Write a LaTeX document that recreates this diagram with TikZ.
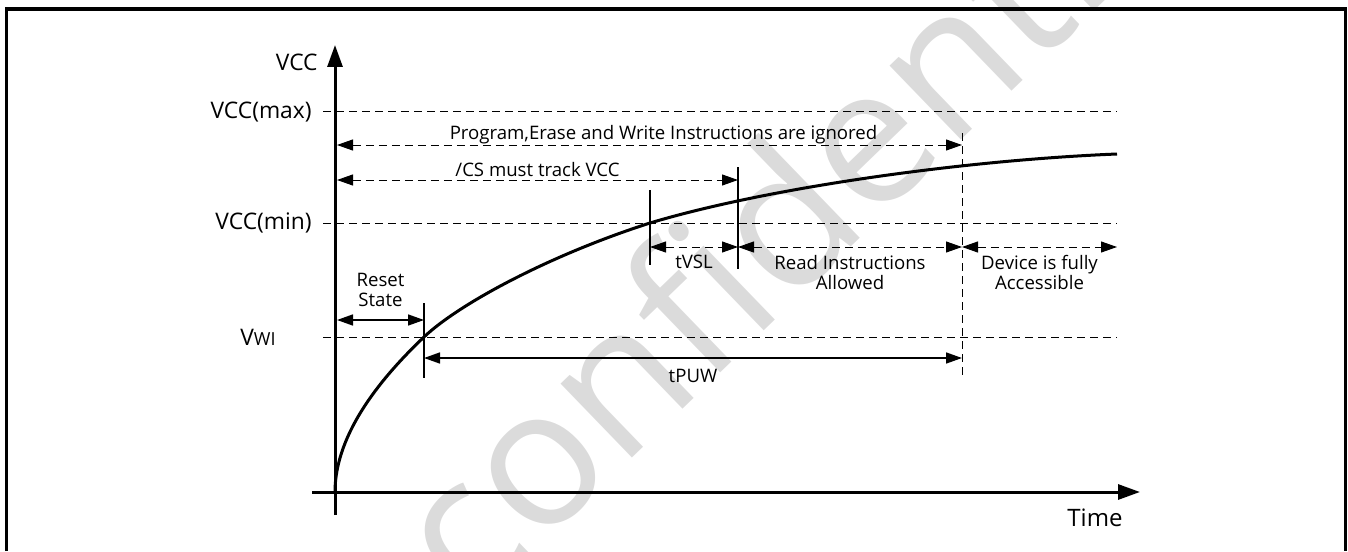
\documentclass[tikz,border=0pt]{standalone}
\usepackage{fontspec}
\setmainfont{Open Sans}
\usetikzlibrary{arrows.meta}

\begin{document}
\begin{tikzpicture}[x=0.5pt, y=-0.5pt,
    every node/.style={font=\fontsize{9.3}{10}\selectfont, inner sep=0pt, align=center},
    biglbl/.style={font=\fontsize{11.4}{13}\selectfont},
    axis/.style={line width=1.5pt, -{Triangle[length=11pt, width=7.5pt]}},
    guide/.style={line width=0.5pt, dash pattern=on 4pt off 2.5pt},
    span/.style={guide, {Triangle[length=8pt, width=5.5pt]}-{Triangle[length=8pt, width=5.5pt]}},
    solidspan/.style={line width=0.8pt, {Triangle[length=8pt, width=5.5pt]}-{Triangle[length=8pt, width=5.5pt]}},
    tickmark/.style={line width=0.6pt}
  ]
  \useasboundingbox (0,0) rectangle (1348,551);
  \node[font=\fontsize{96}{96}\selectfont, text=black!14, rotate=44] (mark) at (800,195) {confidential};
  \draw[line width=1.6pt] (6.5,551) -- (6.5,9) -- (1345.5,9) -- (1345.5,551);

  \coordinate (ybot) at (335,515);
  \coordinate (ytop) at (335,45);
  \coordinate (xleft) at (312,492);
  \coordinate (xright) at (1140,492);
  \draw[axis] (ybot) -- (ytop);
  \draw[axis] (xleft) -- (xright);

  \node[biglbl, anchor=east] (vcc) at (318,62) {VCC};
  \node[biglbl, anchor=east] (vmax) at (312,112) {VCC(max)};
  \node[biglbl, anchor=east] (vmin) at (312,223) {VCC(min)};
  \node[biglbl, anchor=east] (vwi) at (276,337) {V{\fontsize{9}{10}\selectfont WI}};
  \node[font=\fontsize{12}{13}\selectfont] (time) at (1095,518) {Time};

  \coordinate (maxL) at (323,112);  \coordinate (maxR) at (1117,112);
  \coordinate (minL) at (323,223);  \coordinate (minR) at (1117,223);
  \coordinate (wiL) at (323,337);   \coordinate (wiR) at (1117,337);
  \draw[guide] (maxL) -- (maxR);
  \draw[guide] (minL) -- (minR);
  \draw[guide] (wiL) -- (wiR);

  \coordinate (pwT) at (424,303);   \coordinate (pwB) at (424,378);
  \coordinate (vslT) at (650,190);  \coordinate (vslB) at (650,265);
  \coordinate (csT) at (738,167);   \coordinate (csB) at (738,269);
  \coordinate (accT) at (962,133);  \coordinate (accB) at (962,378);
  \draw[tickmark] (pwT) -- (pwB);
  \draw[tickmark] (vslT) -- (vslB);
  \draw[tickmark] (csT) -- (csB);
  \draw[guide] (accT) -- (accB);

  \coordinate (ignL) at (337,145);  \coordinate (ignR) at (962,145);
  \coordinate (trkL) at (337,180);  \coordinate (trkR) at (738,180);
  \coordinate (vslL) at (650,247);  \coordinate (vslR) at (738,247);
  \coordinate (accR) at (962,247);  \coordinate (endR) at (1117,247);
  \coordinate (rstL) at (337,320);  \coordinate (rstR) at (424,320);
  \coordinate (puwL) at (424,358);  \coordinate (puwR) at (962,358);

  \draw[span] (ignL) -- node[above=0.5pt, xshift=7pt] (ign) {Program,Erase and Write Instructions are ignored} (ignR);
  \draw[span] (trkL) -- node[above=1.5pt] (trk) {/CS must track VCC} (trkR);
  \draw[span] (vslL) -- node[below=4pt] (tvsl) {tVSL} (vslR);
  \draw[span] (vslR) -- node[below=4pt] (read) {Read Instructions\\Allowed} (accR);
  \draw[span] (accR) -- node[below=4pt] (full) {Device is fully\\Accessible} (endR);
  \draw[solidspan] (rstL) -- node[above=6.5pt] (rst) {Reset\\State} (rstR);
  \draw[solidspan] (puwL) -- node[below=5pt] (tpuw) {tPUW} (puwR);

  \coordinate (o) at (335,492);
  \coordinate (cwi) at (424,337);
  \coordinate (cmin) at (650,223);
  \coordinate (cend) at (1117,154);
  \draw[line width=1.5pt] (o) .. controls (335,432) and (384,375) .. (cwi)
    .. controls (459,303.75) and (550,255) .. (cmin)
    .. controls (770,187) and (967,160) .. (cend);
\end{tikzpicture}
\end{document}
